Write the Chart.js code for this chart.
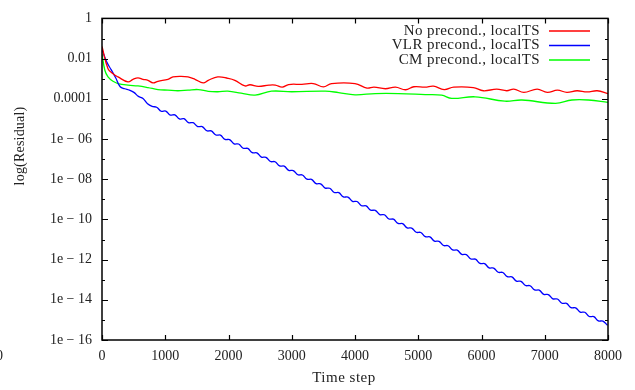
<!DOCTYPE html>
<html>
<head>
<meta charset="utf-8">
<script src="https://cdn.jsdelivr.net/npm/chart.js@4/dist/chart.umd.min.js"></script>
<style>
  html, body { margin: 0; padding: 0; background: #fff; }
</style>
</head>
<body>
<canvas id="chart" width="635" height="390"></canvas>
<script>
// ---------- Dados (log10 do resíduo) ----------
const seriesLabels = ['No precond., localTS', 'VLR precond., localTS', 'CM precond., localTS'];

const redSteps = [0,95,174,253,411,490,569,648,727,806,885,1043,1122,1250,1360,1470,1600,1680,1830,1990,
  2100,2260,2340,2470,2640,2740,2850,2950,3160,3340,3500,3630,4000,4190,4300,4480,4640,4800,4930,5110,
  5240,5410,5560,5870,6030,6240,6400,6510,6670,6880,7040,7200,7350,7510,7670,7830,8000];
const redLog = [-1.4,-2.5,-2.75,-2.91,-3.16,-3.03,-2.96,-3.03,-3.08,-3.21,-3.13,-3.03,-2.91,-2.88,-2.91,-3.03,-3.21,-3.08,-2.91,-2.98,
  -3.08,-3.36,-3.3,-3.38,-3.32,-3.32,-3.42,-3.29,-3.28,-3.24,-3.41,-3.24,-3.24,-3.47,-3.42,-3.5,-3.42,-3.55,-3.4,-3.42,
  -3.37,-3.54,-3.42,-3.44,-3.6,-3.52,-3.6,-3.52,-3.68,-3.52,-3.68,-3.57,-3.68,-3.6,-3.66,-3.6,-3.74];

const blueDt = 72; // passo entre amostras da curva azul
const blueLog = [-1.55,-2.15,-2.55,-2.95,-3.4,-3.5,-3.57,-3.68,-3.88,-3.98,
  -4.25,-4.38,-4.42,-4.62,-4.61,-4.81,-4.80,-5.00,-4.99,-5.19,
  -5.19,-5.38,-5.38,-5.59,-5.60,-5.80,-5.81,-6.02,-6.03,-6.24,
  -6.25,-6.46,-6.47,-6.68,-6.69,-6.90,-6.91,-7.12,-7.13,-7.34,
  -7.35,-7.56,-7.57,-7.78,-7.79,-8.00,-8.01,-8.22,-8.23,-8.44,
  -8.45,-8.66,-8.67,-8.88,-8.89,-9.10,-9.11,-9.32,-9.33,-9.54,
  -9.55,-9.76,-9.77,-9.98,-9.99,-10.20,-10.21,-10.42,-10.43,-10.64,
  -10.65,-10.86,-10.87,-11.08,-11.09,-11.30,-11.31,-11.52,-11.53,-11.74,
  -11.75,-11.97,-11.98,-12.19,-12.20,-12.41,-12.42,-12.63,-12.64,-12.85,
  -12.86,-13.07,-13.08,-13.29,-13.30,-13.51,-13.52,-13.73,-13.74,-13.95,
  -13.96,-14.17,-14.18,-14.39,-14.40,-14.61,-14.62,-14.83,-14.84,-15.05,
  -15.06,-15.27];

const greenSteps = [0,45,95,174,253,411,569,727,885,1043,1200,1360,1520,1680,1830,1990,2200,2420,2680,3000,
  3530,3740,4000,4320,4690,5110,5370,5530,5900,6370,6640,7170,7430,7690,8000];
const greenLog = [-1.76,-2.58,-2.91,-3.13,-3.24,-3.32,-3.36,-3.44,-3.54,-3.57,-3.6,-3.57,-3.54,-3.63,-3.65,-3.62,-3.72,-3.82,-3.62,-3.65,
  -3.62,-3.69,-3.8,-3.74,-3.74,-3.79,-3.82,-3.98,-3.9,-4.12,-4.06,-4.23,-4.06,-4.06,-4.18];

const xTicks = [0,1000,2000,3000,4000,5000,6000,7000,8000];
const yTickExp = [0,-2,-4,-6,-8,-10,-12,-14,-16];
const yTickLabels = ['1','0.01','0.0001','1e − 06','1e − 08','1e − 10','1e − 12','1e − 14','1e − 16'];
const yMinorExp = [-1,-3,-5,-7,-9,-11,-13,-15];

const FONT = '"Liberation Serif", "DejaVu Serif", serif';
const colors = ['#ff0000', '#0000ff', '#00ff00'];

const toPts = (xs, ls) => ls.map((v, i) => ({ x: xs[i], y: Math.pow(10, v) }));
const bluePts = blueLog.map((v, i) => ({ x: i * blueDt, y: Math.pow(10, v) }));

// ---------- Moldura, ticks internos, legenda e títulos (estilo gnuplot) ----------
const framePlugin = {
  id: 'frame',
  afterDatasetsDraw(chart) {
    const { ctx, chartArea: a, scales: { x, y } } = chart;
    ctx.save();
    ctx.strokeStyle = '#000';
    ctx.lineWidth = 1.2;
    ctx.beginPath();
    xTicks.forEach(v => {
      const px = Math.round(x.getPixelForValue(v)) + 0.5;
      ctx.moveTo(px, a.bottom); ctx.lineTo(px, a.bottom - 5);
      ctx.moveTo(px, a.top); ctx.lineTo(px, a.top + 5);
    });
    yTickExp.concat(yMinorExp).forEach(e => {
      const py = Math.round(y.getPixelForValue(Math.pow(10, e))) + 0.5;
      const len = e % 2 === 0 ? 6 : 3;
      ctx.moveTo(a.left, py); ctx.lineTo(a.left + len, py);
      ctx.moveTo(a.right, py); ctx.lineTo(a.right - len, py);
    });
    ctx.stroke();
    ctx.lineWidth = 1.5;
    ctx.strokeRect(a.left, a.top, a.right - a.left, a.bottom - a.top);

    // legenda
    ctx.font = '15px ' + FONT;
    ctx.letterSpacing = '0.4px';
    ctx.fillStyle = '#222';
    ctx.textAlign = 'right';
    ctx.textBaseline = 'middle';
    seriesLabels.forEach((lbl, i) => {
      const ly = a.top + 12.5 + i * 14.5;
      ctx.fillText(lbl, a.right - 68, ly);
    });
    ctx.lineWidth = 1.5;
    seriesLabels.forEach((lbl, i) => {
      const ly = a.top + 12.5 + i * 14.5;
      ctx.strokeStyle = colors[i];
      ctx.beginPath();
      ctx.moveTo(a.right - 59, ly);
      ctx.lineTo(a.right - 18, ly);
      ctx.stroke();
    });

    // títulos dos eixos
    ctx.textAlign = 'center';
    ctx.letterSpacing = '0.5px';
    ctx.fillText('Time step', a.left + 242, 378);
    ctx.font = '14px ' + FONT;
    ctx.letterSpacing = '0.2px';
    ctx.save();
    ctx.translate(20, 146);
    ctx.rotate(-Math.PI / 2);
    ctx.fillText('log(Residual)', 0, 0);
    ctx.restore();
    ctx.letterSpacing = '0px';
    // rótulo cortado no canto
    ctx.textAlign = 'left';
    ctx.fillText('0', -4, 356);
    ctx.restore();
  }
};

new Chart(document.getElementById('chart'), {
  type: 'line',
  data: {
    datasets: [
      { label: seriesLabels[0], data: toPts(redSteps, redLog), borderColor: colors[0] },
      { label: seriesLabels[1], data: bluePts, borderColor: colors[1] },
      { label: seriesLabels[2], data: toPts(greenSteps, greenLog), borderColor: colors[2] }
    ].map(d => Object.assign(d, { borderWidth: 1.3, pointRadius: 0, tension: 0.4, fill: false }))
  },
  options: {
    responsive: false,
    animation: false,
    devicePixelRatio: 1,
    layout: { padding: { left: 0, right: 27, top: 16, bottom: 0 } },
    plugins: { legend: { display: false }, tooltip: { enabled: false } },
    scales: {
      x: {
        type: 'linear', min: 0, max: 8000,
        grid: { display: false, drawTicks: false },
        border: { display: false },
        afterBuildTicks: s => { s.ticks = xTicks.map(v => ({ value: v })); },
        afterFit: s => { s.height = 50; },
        ticks: { padding: 8, maxRotation: 0, color: '#222', font: { family: FONT, size: 14 }, callback: v => String(v) }
      },
      y: {
        type: 'logarithmic', min: 1e-16, max: 1,
        grid: { display: false, drawTicks: false },
        border: { display: false },
        afterBuildTicks: s => { s.ticks = yTickExp.map(e => ({ value: Math.pow(10, e) })); },
        afterFit: s => { s.width = 102; },
        ticks: {
          padding: 10, color: '#222', font: { family: FONT, size: 14 },
          callback: (v, i) => yTickLabels[i]
        }
      }
    }
  },
  plugins: [framePlugin]
});
</script>
</body>
</html>
